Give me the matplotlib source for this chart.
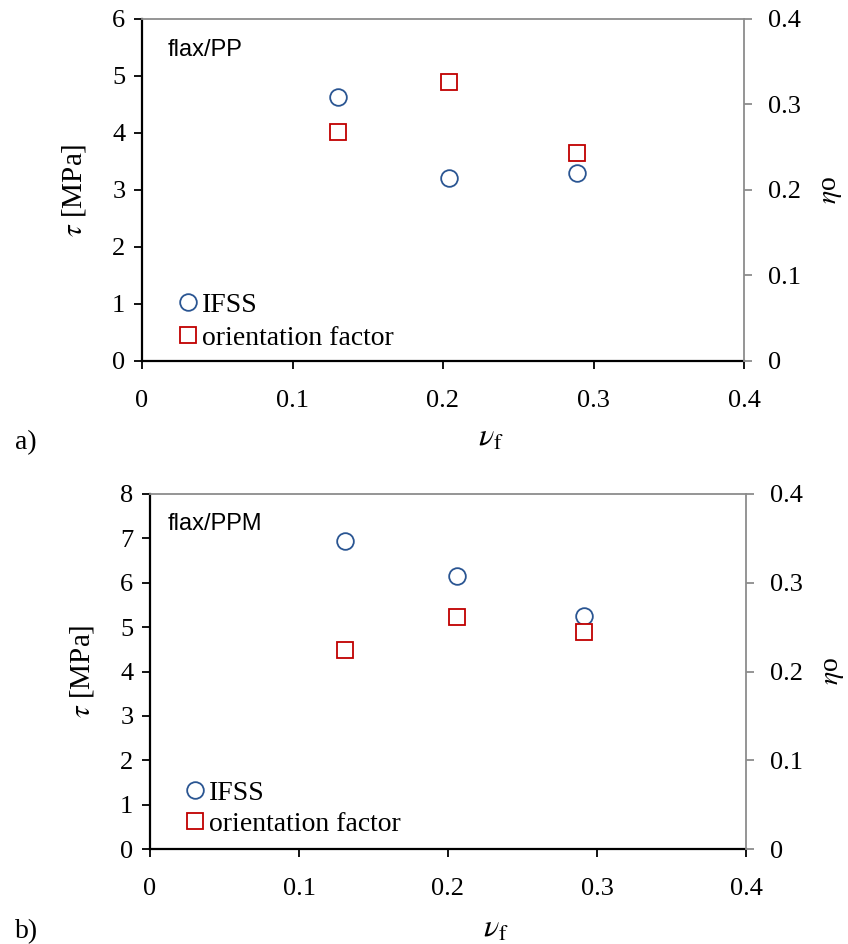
import matplotlib
matplotlib.use("Agg")
import matplotlib.pyplot as plt

plt.rcParams['font.family'] = ['Liberation Serif', 'DejaVu Serif']
plt.rcParams['mathtext.fontset'] = 'stix'

# data
vf_pp = [0.13, 0.204, 0.289]
ifss_pp = [4.63, 3.21, 3.30]
eta_pp = [0.268, 0.326, 0.243]

vf_ppm = [0.131, 0.206, 0.291]
ifss_ppm = [6.94, 6.15, 5.25]
eta_ppm = [0.224, 0.261, 0.245]

panels = [
    dict(name='flax/PP', tag='a)', vf=vf_pp, ifss=ifss_pp, eta=eta_pp,
         ymax=6, rect=[142/848, 1-361/944, 602/848, 342/944], tagy=1-443/944,
         namexy=(0.043, 0.91), leg=(0.065, 0.03), labspace=0.28),
    dict(name='flax/PPM', tag='b)', vf=vf_ppm, ifss=ifss_ppm, eta=eta_ppm,
         ymax=8, rect=[150/848, 1-849/944, 596/848, 355/944], tagy=1-932/944,
         namexy=(0.03, 0.915), leg=(0.064, 0.035), labspace=0.2),
]

BLUE = '#2A5592'
RED = '#C00000'
GRAY = '#8C8C8C'

fig = plt.figure(figsize=(8.48, 9.44), dpi=100)

for p in panels:
    ax = fig.add_axes(p['rect'])
    ax2 = ax.twinx()
    h1, = ax.plot(p['vf'], p['ifss'], linestyle='none', marker='o', ms=12,
                  mfc='white', mec=BLUE, mew=1.3, label='IFSS')
    h2, = ax2.plot(p['vf'], p['eta'], linestyle='none', marker='s', ms=11.5,
                   mfc='white', mec=RED, mew=1.3, label='orientation factor')
    ax.set_xlim(0, 0.4)
    ax.set_ylim(0, p['ymax'])
    ax2.set_ylim(0, 0.4)
    ax.set_xticks([0, 0.1, 0.2, 0.3, 0.4])
    ax.set_xticklabels(['0', '0.1', '0.2', '0.3', '0.4'])
    ax.set_yticks(range(0, p['ymax'] + 1))
    ax2.set_yticks([0, 0.1, 0.2, 0.3, 0.4])
    ax2.set_yticklabels(['0', '0.1', '0.2', '0.3', '0.4'])

    for a in (ax, ax2):
        for s in a.spines.values():
            s.set_visible(False)
    ax.spines['left'].set_visible(True)
    ax.spines['bottom'].set_visible(True)
    ax.spines['left'].set_linewidth(1.6)
    ax.spines['bottom'].set_linewidth(1.6)
    ax.spines['top'].set_visible(True)
    ax.spines['top'].set_color(GRAY)
    ax.spines['top'].set_linewidth(1.3)
    ax2.spines['right'].set_visible(True)
    ax2.spines['right'].set_color(GRAY)
    ax2.spines['right'].set_linewidth(1.3)

    ax.tick_params(axis='both', direction='out', length=6, width=1.3,
                   labelsize=19, pad=6)
    ax.tick_params(axis='x', pad=15)
    ax2.tick_params(axis='y', direction='out', length=6, width=1.3,
                    color=GRAY, labelsize=19, pad=11)

    ax.set_ylabel(r'$\tau$ [MPa]', fontsize=21)
    ax.yaxis.set_label_coords(-0.09, 0.5)
    ax.set_xlabel(r'$\nu_{\mathrm{f}}$', fontsize=23)
    ax.xaxis.set_label_coords(0.58, -0.185)
    ax2.set_ylabel(r'$\eta$o', fontsize=20)
    ax2.yaxis.set_label_coords(1.125, 0.5)

    ax.text(p['namexy'][0], p['namexy'][1], p['name'], transform=ax.transAxes,
            fontsize=17, family='Liberation Sans', va='center', ha='left')

    ax.legend([h1, h2], ['IFSS', 'orientation factor'], loc='lower left',
              bbox_to_anchor=p['leg'], frameon=False, fontsize=20,
              handlelength=0.5, handletextpad=0.25, labelspacing=p['labspace'],
              borderpad=0.0, borderaxespad=0.0)

    fig.text(15/848, p['tagy'], p['tag'], fontsize=20, va='center', ha='left')

fig.savefig('out.png', dpi=100)
